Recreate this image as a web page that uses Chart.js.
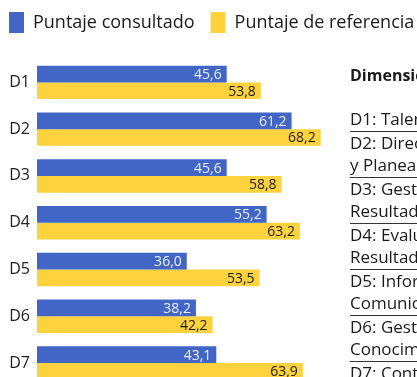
<!DOCTYPE html>
<html lang="es">
<head>
<meta charset="UTF-8">
<title>Puntaje por dimensión</title>
<script src="https://cdn.jsdelivr.net/npm/chart.js@4.4.1/dist/chart.umd.min.js"></script>
<style>
    html, body {
        margin: 0;
        padding: 0;
        width: 417px;
        height: 377px;
        overflow: hidden;
        background: #ffffff;
        font-family: "Open Sans", sans-serif;
    }

    #graficoDimensiones {
        position: absolute;
        left: -7px;
        top: -4px;
    }

    #panelDimensiones {
        position: absolute;
        left: 350px;
        top: 64px;
        width: 300px;
        color: #1a1a1a;
        white-space: nowrap;
    }

    #panelDimensiones h3 {
        margin: 0 0 21px 0;
        font-size: 16px;
        line-height: 23px;
        font-weight: 700;
    }

    #panelDimensiones div {
        font-size: 17px;
        line-height: 22.5px;
        border-bottom: 1px solid #333333;
    }
</style>
</head>
<body>

<canvas id="graficoDimensiones" width="460" height="407"></canvas>

<div id="panelDimensiones">
    <h3>Dimensiones</h3>
    <div>D1: Talento Humano</div>
    <div>D2: Direccionamiento Estratégico<br>y Planeación</div>
    <div>D3: Gestión con Valores para<br>Resultados</div>
    <div>D4: Evaluación de<br>Resultados</div>
    <div>D5: Información y<br>Comunicación</div>
    <div>D6: Gestión del<br>Conocimiento</div>
    <div>D7: Control Interno</div>
</div>

<script>
const dimensiones = ['D1', 'D2', 'D3', 'D4', 'D5', 'D6', 'D7'];
const puntajeConsultado = [45.6, 61.2, 45.6, 55.2, 36.0, 38.2, 43.1];
const puntajeReferencia = [53.8, 68.2, 58.8, 63.2, 53.5, 42.2, 63.9];

const azul = '#4166C5';
const amarillo = '#FED23D';

// escribe el valor de cada barra dentro de su extremo derecho
const etiquetasValor = {
    id: 'etiquetasValor',
    afterDatasetsDraw(chart) {
        const ctx = chart.ctx;
        ctx.save();
        ctx.font = '14px "Open Sans"';
        ctx.textAlign = 'right';
        ctx.textBaseline = 'middle';
        chart.data.datasets.forEach((dataset, i) => {
            const meta = chart.getDatasetMeta(i);
            ctx.fillStyle = i === 0 ? '#eef0fa' : '#1a1a1a';
            meta.data.forEach((barra, j) => {
                const texto = dataset.data[j].toFixed(1).replace('.', ',');
                ctx.fillText(texto, barra.x - 5, barra.y + 1);
            });
        });
        ctx.restore();
    }
};

// deja aire entre la leyenda y las barras
const margenLeyenda = {
    id: 'margenLeyenda',
    beforeInit(chart) {
        const fitOriginal = chart.legend.fit;
        chart.legend.fit = function () {
            fitOriginal.bind(chart.legend)();
            this.height += 16;
        };
    }
};

new Chart(document.getElementById('graficoDimensiones').getContext('2d'), {
    type: 'bar',
    data: {
        labels: dimensiones,
        datasets: [
            {
                label: 'Puntaje consultado',
                data: puntajeConsultado,
                backgroundColor: azul,
                borderWidth: 0
            },
            {
                label: 'Puntaje de referencia',
                data: puntajeReferencia,
                backgroundColor: amarillo,
                borderWidth: 0
            }
        ]
    },
    options: {
        indexAxis: 'y',
        responsive: false,
        animation: false,
        devicePixelRatio: 1,
        categoryPercentage: 0.714,
        barPercentage: 1.0,
        layout: {
            padding: 0
        },
        scales: {
            x: {
                display: false,
                min: 0,
                max: 100
            },
            y: {
                grid: { display: false, drawTicks: false },
                border: { display: false },
                ticks: {
                    color: '#222222',
                    padding: 7,
                    font: { family: '"Open Sans"', size: 16 }
                },
                afterFit(escala) {
                    escala.width = 44;
                }
            }
        },
        plugins: {
            legend: {
                position: 'top',
                align: 'start',
                labels: {
                    boxWidth: 15,
                    boxHeight: 21,
                    padding: 16,
                    color: '#1a1a1a',
                    font: { family: '"Open Sans"', size: 18 }
                }
            },
            tooltip: { enabled: false }
        }
    },
    plugins: [etiquetasValor, margenLeyenda]
});
</script>
</body>
</html>
